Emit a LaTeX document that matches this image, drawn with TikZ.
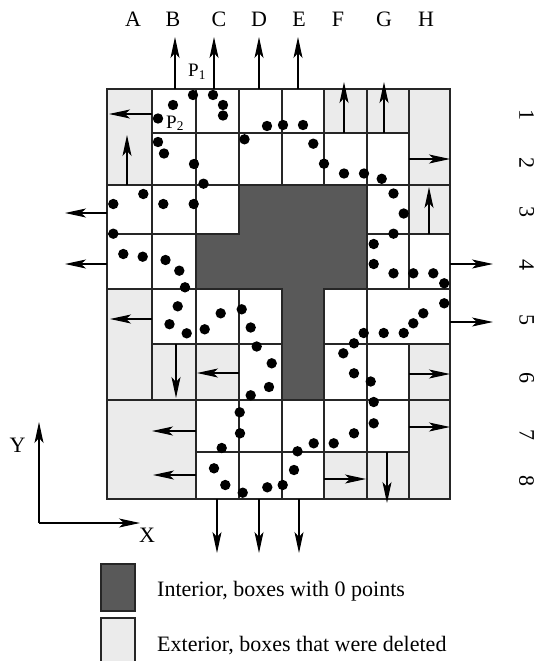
\documentclass[tikz,border=0pt]{standalone}
\usepackage{fontspec}
\setmainfont{Liberation Serif}
\usetikzlibrary{arrows.meta}
\begin{document}
\begin{tikzpicture}[x=1pt,y=-1pt,
  ext/.style={fill=black!8},
  intr/.style={fill=black!65},
  cell/.style={draw=black!85, line width=1.1pt},
  arr/.style={draw=black, line width=1.1pt, -{Stealth[length=21pt,width=9pt,inset=5pt]}},
  pt/.style={fill=black},
  lbl/.style={font=\fontsize{22}{24}\selectfont, inner sep=0pt},
  plbl/.style={font=\fontsize{19}{21}\selectfont, inner sep=0pt},
]
\useasboundingbox (0,0) rectangle (539,661);

% ---- exterior (deleted) boxes
\foreach \a/\b/\c/\d in {107/89/152/185, 324/89/367/133, 367/89/409/133, 409/89/450/185,
  409/185/450/234, 107/289/152/400, 152/344/196/400, 196/344/239/400, 409/344/450/400,
  107/400/196/499, 324/452/367/499, 367/452/409/499, 409/400/450/499}
  \path[ext,cell] (\a,\b) rectangle (\c,\d);

% ---- interior (0 points)
\path[intr,cell] (239,185) -- (367,185) -- (367,289) -- (324,289) -- (324,400) -- (282,400)
  -- (282,289) -- (196,289) -- (196,234) -- (239,234) -- cycle;

% ---- boxes with points
\foreach \a/\b/\c/\d in {152/89/196/133, 196/89/239/133, 239/89/282/133, 282/89/324/133,
  152/133/196/185, 196/133/239/185, 239/133/282/185, 282/133/324/185, 324/133/367/185, 367/133/409/185,
  107/185/152/234, 152/185/196/234, 196/185/239/234, 367/185/409/234,
  107/234/152/289, 152/234/196/289, 367/234/409/289, 409/234/450/289,
  152/289/196/344, 196/289/239/344, 239/289/282/344, 324/289/367/344, 367/289/450/344,
  239/344/282/400, 324/344/367/400, 367/344/409/400,
  196/400/239/452, 239/400/282/452, 282/400/324/452, 324/400/367/452, 367/400/409/452,
  196/452/239/499, 239/452/282/499, 282/452/324/499}
  \path[cell] (\a,\b) rectangle (\c,\d);

% ---- points
\foreach \p/\q in {193/95, 213/95, 173/105, 223/105, 223/115.5, 158/118.5, 267/126, 283/125, 303/125,
  158/142, 164/153.5, 194/164, 244.5/139.3, 313.3/143.7, 324/163.7, 344/173.5, 364/173.5, 381.7/178.8, 203.5/183.7,
  143.3/194, 113.3/204, 163.3/204, 193.7/204, 393.5/193.5, 403.7/213.5, 393.5/233.7, 113.3/233.7,
  123.3/254, 142.7/256.7, 165.5/260, 179.3/270.7, 185/287.3,
  373.7/244, 373.7/264, 393.5/273.3, 413.3/273.3, 433.3/273.3, 444.2/283.3, 444.2/303.3, 423.3/313.3,
  413.3/323.3, 403.7/333, 383.7/333, 363.7/333, 354/343.3, 343.3/353.3, 354/373.3, 370.7/381.5,
  373.7/402, 373.7/423.3, 354/433.3, 333.7/443.3, 313.7/443.3, 297.5/451.3, 294/470, 282.7/485,
  267.3/487.3, 242.7/492.7, 225.3/485, 214/468.3, 221.7/448, 240/433.3, 239.7/412.3, 250.7/395.3,
  269/387, 271.7/363.3, 256.7/346.5, 250.7/327.5, 241.7/309.3, 220.7/313.3, 204.7/329.3, 186.7/333.3,
  169.5/324.2, 177.7/306.3}
  \fill[pt] (\p,\q) circle (5.2pt);

% ---- arrows
\foreach \x in {175, 214, 259, 298} \draw[arr] (\x,89) -- (\x,37);
\foreach \x in {344, 384} \draw[arr] (\x,133) -- (\x,82);
\foreach \x in {217, 259, 299} \draw[arr] (\x,499) -- (\x,553);
\foreach \y in {213, 264} \draw[arr] (107,\y) -- (65,\y);
\foreach \y in {264, 322} \draw[arr] (450,\y) -- (493,\y);
\draw[arr] (152,114) -- (109,114);
\draw[arr] (127,185) -- (127,135);
\draw[arr] (409,159) -- (450,159);
\draw[arr] (429,234) -- (429,187);
\draw[arr] (152,319) -- (110,319);
\draw[arr] (176,344) -- (176,398);
\draw[arr] (239,373) -- (197,373);
\draw[arr] (409,374) -- (450,374);
\draw[arr] (196,431) -- (152,431);
\draw[arr] (196,475) -- (153,475);
\draw[arr] (409,427) -- (450,427);
\draw[arr] (324,479) -- (366,479);
\draw[arr] (387,452) -- (387,503);

% ---- axes
\coordinate (O) at (39,523);
\coordinate (Ytip) at (39,422);
\coordinate (Xtip) at (140,523);
\draw[arr] (O) -- (Ytip);
\draw[arr] (O) -- (Xtip);
\node[lbl] (ylab) at (17.5,445.5) {Y};
\node[lbl] (xlab) at (147,535.5) {X};

% ---- column letters
\foreach \t/\x in {A/133, B/173, C/219, D/259, E/299, F/338, G/384, H/426}
  \node[lbl, anchor=base] (col\t) at (\x,27) {\t};

% ---- row numbers
\foreach \t/\y in {1/115, 2/163, 3/212, 4/265, 5/320, 6/378, 7/435, 8/481}
  \node[lbl, rotate=-90] (row\t) at (526.7,\y) {\t};

% ---- point labels
\node[plbl, anchor=base west] (p1) at (188,77) {P\textsubscript{1}};
\node[plbl, anchor=base west] (p2) at (166,128) {P\textsubscript{2}};

% ---- legend
\path[intr,cell] (101,564) rectangle (135,611);
\path[ext,cell] (101,618) rectangle (135,668);
\node[lbl, anchor=base west] (leg1) at (157,596) {Interior, boxes with 0 points};
\node[lbl, anchor=base west] (leg2) at (157,651) {Exterior, boxes that were deleted};
\end{tikzpicture}
\end{document}
